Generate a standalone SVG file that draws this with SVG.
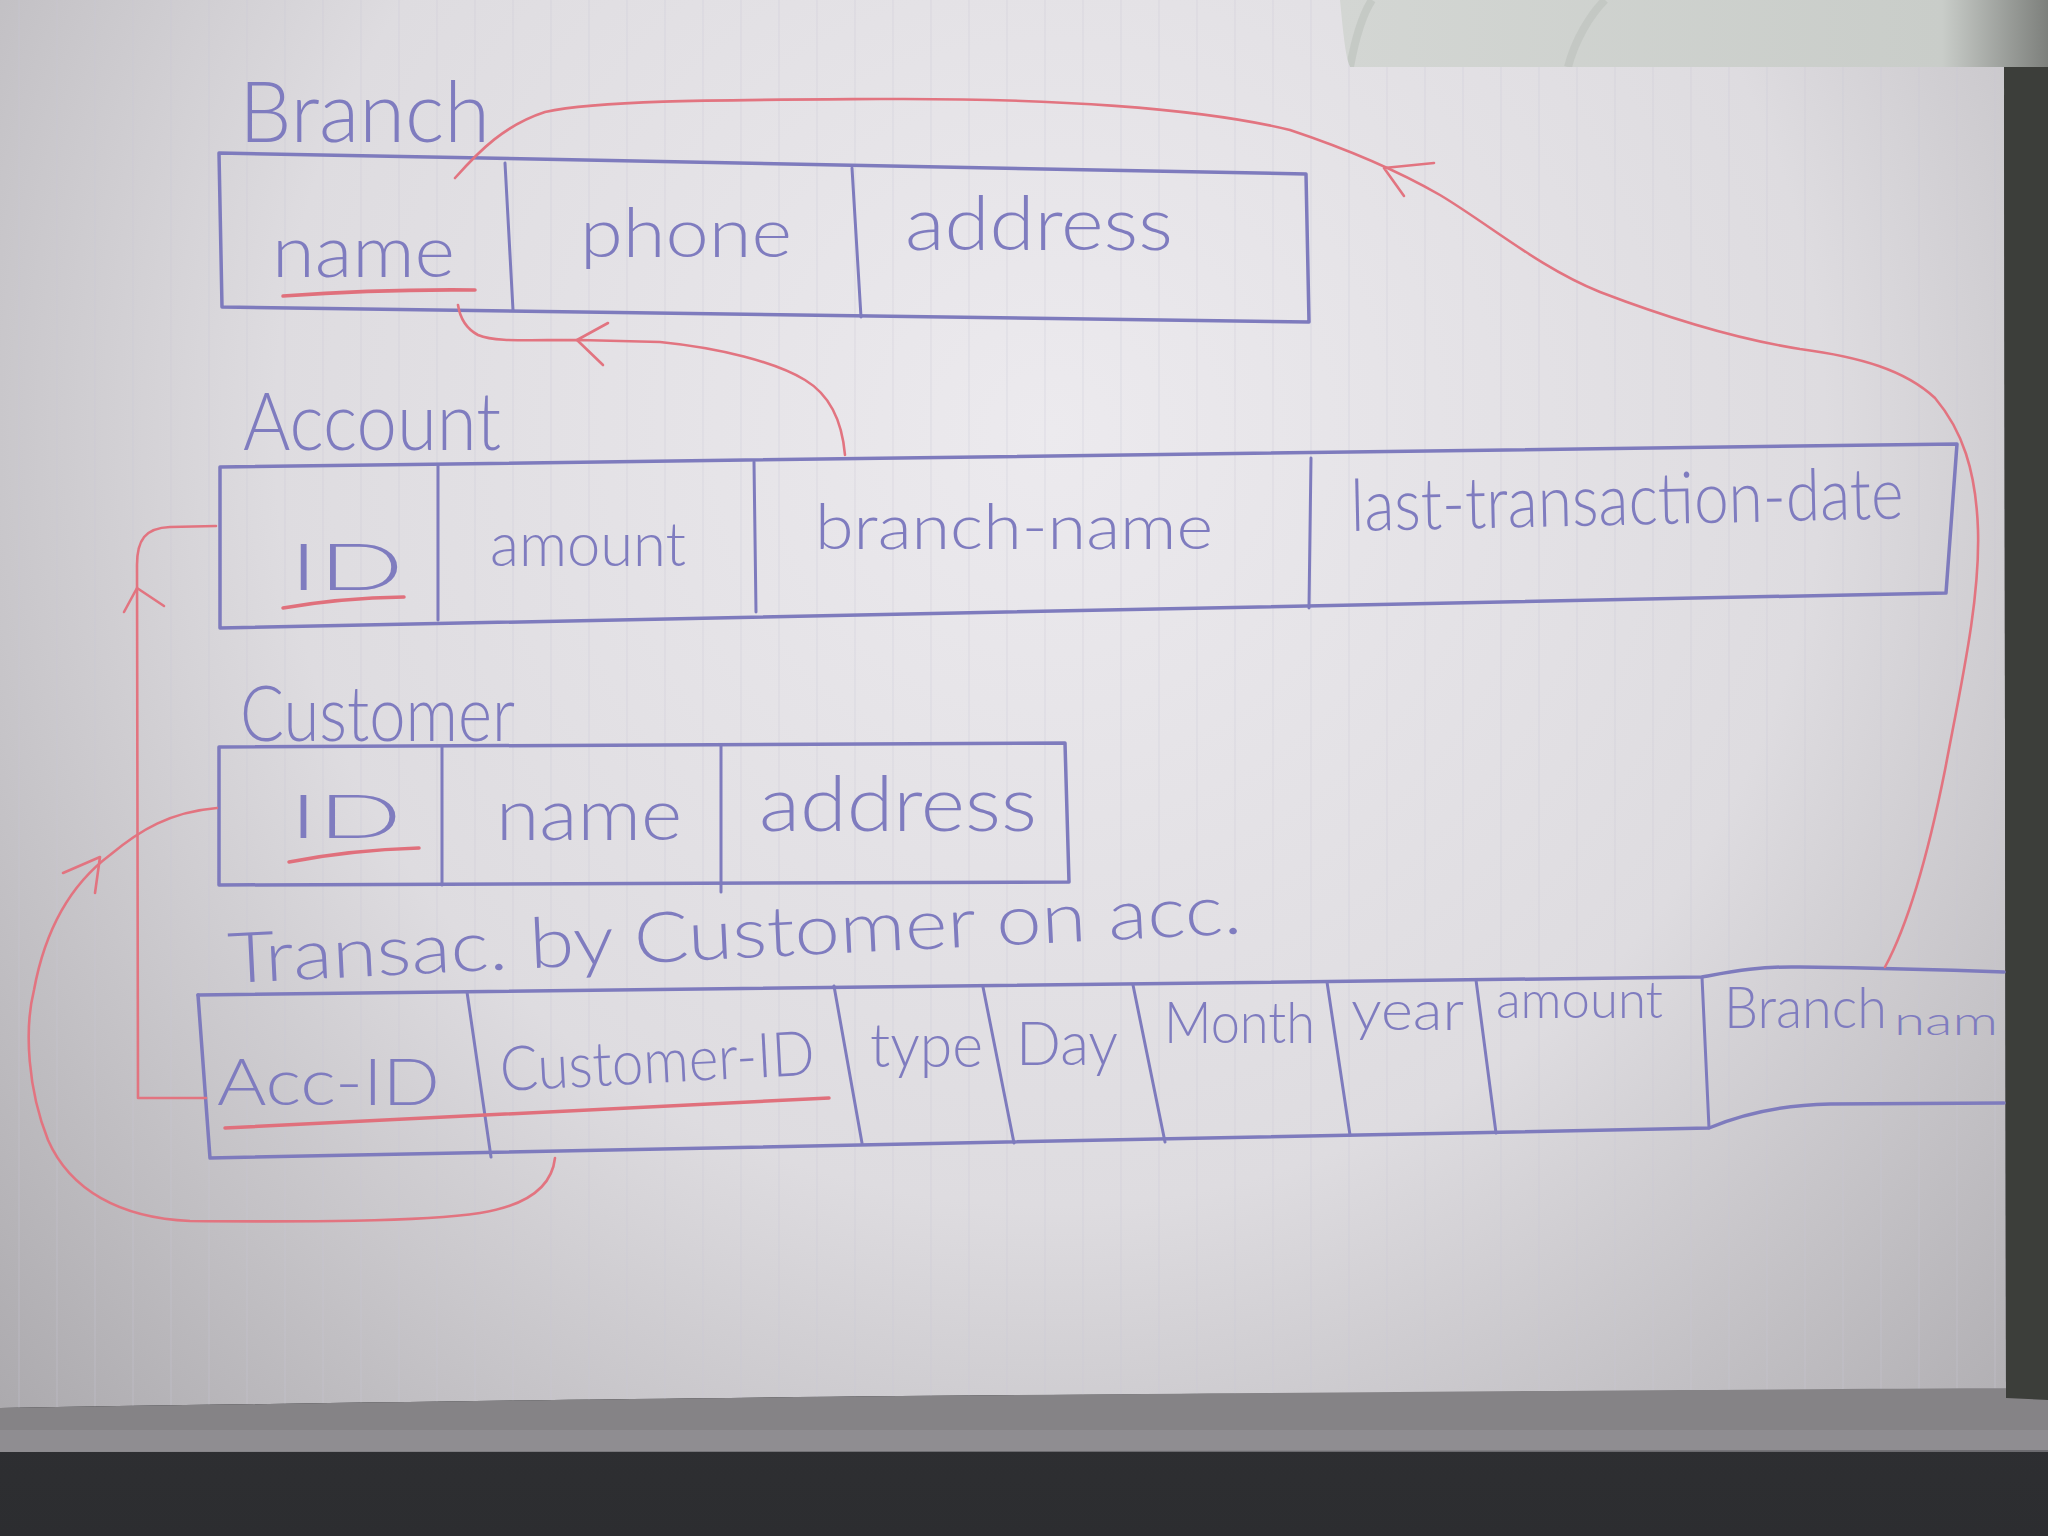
<svg xmlns="http://www.w3.org/2000/svg" width="2048" height="1536" viewBox="0 0 2048 1536">
<defs>
  <radialGradient id="paperGrad" cx="1050" cy="430" r="1550" gradientUnits="userSpaceOnUse">
    <stop offset="0" stop-color="#eceaee"/>
    <stop offset="0.5" stop-color="#dedce0"/>
    <stop offset="1" stop-color="#a3a1a5"/>
  </radialGradient>
  <linearGradient id="darkGrad" x1="0" y1="0" x2="0" y2="1">
    <stop offset="0" stop-color="#46474a"/>
    <stop offset="1" stop-color="#2c2d30"/>
  </linearGradient>
  <linearGradient id="topGrad" x1="0" y1="0" x2="1" y2="0">
    <stop offset="0" stop-color="#d3d6d3"/>
    <stop offset="0.85" stop-color="#c9cdc9"/>
    <stop offset="1" stop-color="#7d807c"/>
  </linearGradient>
  <pattern id="rules" width="38" height="1536" patternUnits="userSpaceOnUse">
    <line x1="19" y1="0" x2="19" y2="1536" stroke="#c8c5d4" stroke-width="1.2" opacity="0.35"/>
  </pattern>
  <style>
    .box { fill: none; stroke: #7e7bbd; stroke-width: 3.5; stroke-linejoin: round; stroke-linecap: round; }
    .div { fill: none; stroke: #7e7bbd; stroke-width: 3; stroke-linecap: round; }
    .t { font-family: Lato, "Open Sans", "Liberation Sans", sans-serif; font-weight: 300; fill: #7f7cbf; }
    .pk { fill: none; stroke: #e0707c; stroke-width: 3.5; stroke-linecap: round; }
    .fk { fill: none; stroke: #e27480; stroke-width: 2.6; stroke-linecap: round; stroke-linejoin: round; }
  </style>
</defs>

<!-- background / paper -->
<rect x="0" y="0" width="2048" height="1536" fill="url(#darkGrad)"/>
<rect x="1340" y="0" width="708" height="95" fill="url(#topGrad)"/>
<path d="M1350,67 C1355,40 1362,15 1372,0 M1568,67 C1575,40 1590,15 1605,0" fill="none" stroke="#bcc2bc" stroke-width="8" opacity="0.6"/>
<path d="M0,0 L1340,0 C1343,30 1345,55 1350,67 L2004,67 L2006,1398 C1600,1390 1300,1393 900,1396 C500,1400 200,1405 0,1408 Z" fill="url(#paperGrad)"/>
<path d="M0,0 L1340,0 C1343,30 1345,55 1350,67 L2004,67 L2006,1398 C1600,1390 1300,1393 900,1396 C500,1400 200,1405 0,1408 Z" fill="url(#rules)"/>
<path d="M0,1408 C200,1405 500,1400 900,1396 C1300,1393 1600,1390 2048,1388 L2048,1450 L0,1452 Z" fill="#858386"/>
<rect x="0" y="1430" width="2048" height="22" fill="#96949a" opacity="0.6"/>
<path d="M2004,67 L2048,67 L2048,1400 L2006,1398 Z" fill="#3c3e3a"/>

<!-- Branch -->
<g id="branch">
  <text class="t" x="239" y="142" font-size="84" textLength="251" lengthAdjust="spacingAndGlyphs">Branch</text>
  <path class="box" d="M219,153 L1306,174 L1309,322 L222,307 Z"/>
  <line class="div" x1="505" y1="163" x2="513" y2="310"/>
  <line class="div" x1="852" y1="168" x2="861" y2="317"/>
  <text class="t" x="272" y="277" font-size="72" textLength="183" lengthAdjust="spacingAndGlyphs">name</text>
  <path class="pk" d="M283,296 Q380,289 475,290"/>
  <text class="t" x="580" y="257" font-size="68" textLength="212" lengthAdjust="spacingAndGlyphs">phone</text>
  <text class="t" x="905" y="250" font-size="74" textLength="268" lengthAdjust="spacingAndGlyphs">address</text>
</g>

<!-- Account -->
<g id="account">
  <text class="t" x="243" y="450" font-size="80" textLength="258" lengthAdjust="spacingAndGlyphs">Account</text>
  <path class="box" d="M220,467 L1957,444 L1946,593 L220,628 Z"/>
  <line class="div" x1="438" y1="466" x2="438" y2="620"/>
  <line class="div" x1="754" y1="462" x2="756" y2="612"/>
  <line class="div" x1="1311" y1="458" x2="1309" y2="608"/>
  <text class="t" x="289" y="590" font-size="66" textLength="115" lengthAdjust="spacingAndGlyphs">ID</text>
  <path class="pk" d="M283,608 Q340,598 404,597"/>
  <text class="t" x="490" y="566" font-size="62" textLength="196" lengthAdjust="spacingAndGlyphs">amount</text>
  <text class="t" x="815" y="549" font-size="64" textLength="398" lengthAdjust="spacingAndGlyphs">branch-name</text>
  <text class="t" x="1351" y="531" font-size="72" textLength="553" lengthAdjust="spacingAndGlyphs" transform="rotate(-1.3 1351 531)">last-transaction-date</text>
</g>

<!-- Customer -->
<g id="customer">
  <text class="t" x="240" y="741" font-size="76" textLength="275" lengthAdjust="spacingAndGlyphs">Customer</text>
  <path class="box" d="M219,747 L1065,743 L1069,882 L219,885 Z"/>
  <line class="div" x1="442" y1="747" x2="442" y2="885"/>
  <line class="div" x1="721" y1="745" x2="721" y2="892"/>
  <text class="t" x="289" y="838" font-size="62" textLength="113" lengthAdjust="spacingAndGlyphs">ID</text>
  <path class="pk" d="M289,862 Q350,850 419,848"/>
  <text class="t" x="496" y="840" font-size="72" textLength="186" lengthAdjust="spacingAndGlyphs">name</text>
  <text class="t" x="759" y="831" font-size="76" textLength="278" lengthAdjust="spacingAndGlyphs">address</text>
</g>

<!-- Transaction by customer on account -->
<g id="transaction">
  <text class="t" x="229" y="983" font-size="70" textLength="1015" lengthAdjust="spacingAndGlyphs" transform="rotate(-2.8 229 983)">Transac. by Customer on acc.</text>
  <path class="box" d="M198,995 L1702,977 C1730,972 1760,966 1800,967 C1880,968 1950,970 2004,972"/>
  <path class="box" d="M198,995 L210,1158 L1709,1128 C1740,1115 1780,1105 1830,1104 L2004,1103"/>
  <line class="div" x1="467" y1="992" x2="491" y2="1157"/>
  <line class="div" x1="834" y1="986" x2="862" y2="1143"/>
  <line class="div" x1="983" y1="987" x2="1014" y2="1143"/>
  <line class="div" x1="1133" y1="985" x2="1165" y2="1142"/>
  <line class="div" x1="1327" y1="982" x2="1350" y2="1135"/>
  <line class="div" x1="1476" y1="980" x2="1496" y2="1133"/>
  <line class="div" x1="1702" y1="977" x2="1709" y2="1128"/>
  <text class="t" x="217" y="1105" font-size="66" textLength="223" lengthAdjust="spacingAndGlyphs">Acc-ID</text>
  <path class="pk" d="M225,1128 Q500,1115 829,1098"/>
  <text class="t" x="501" y="1091" font-size="62" textLength="315" lengthAdjust="spacingAndGlyphs" transform="rotate(-3 501 1091)">Customer-ID</text>
  <text class="t" x="870" y="1067" font-size="62" textLength="113" lengthAdjust="spacingAndGlyphs">type</text>
  <text class="t" x="1016" y="1065" font-size="62" textLength="102" lengthAdjust="spacingAndGlyphs">Day</text>
  <text class="t" x="1164" y="1043" font-size="58" textLength="151" lengthAdjust="spacingAndGlyphs">Month</text>
  <text class="t" x="1351" y="1030" font-size="56" textLength="113" lengthAdjust="spacingAndGlyphs">year</text>
  <text class="t" x="1496" y="1018" font-size="52" textLength="167" lengthAdjust="spacingAndGlyphs">amount</text>
  <text class="t" x="1724" y="1028" font-size="58"><tspan textLength="163" lengthAdjust="spacingAndGlyphs">Branch</tspan><tspan x="1894" y="1035" font-size="40" textLength="104" lengthAdjust="spacingAndGlyphs">nam</tspan></text>
</g>

<!-- connectors (foreign keys) -->
<g id="connectors">
  <!-- Account.branch-name -> Branch.name -->
  <path class="fk" d="M845,455 C842,420 830,395 805,380 C775,362 720,348 660,342 L580,340 C520,340 495,342 478,335 C465,328 460,318 458,305"/>
  <path class="fk" d="M608,323 L577,340 L603,365"/>
  <!-- Transaction.Branch name -> Branch.name -->
  <path class="fk" d="M1885,967 C1905,930 1925,870 1945,770 C1962,680 1980,600 1978,530 C1976,470 1962,430 1935,398 C1905,370 1860,357 1800,349 C1730,338 1660,315 1600,292 C1540,268 1490,225 1440,195 C1400,172 1350,150 1290,130 C1200,108 1050,98 880,99 C720,100 600,100 545,112 C505,125 480,150 455,178"/>
  <path class="fk" d="M1434,163 L1384,168 L1404,196"/>
  <!-- Transaction.Acc-ID -> Account.ID -->
  <path class="fk" d="M206,1098 L138,1098 L137,565 C137,540 145,528 170,527 L216,526"/>
  <path class="fk" d="M124,612 L137,588 L164,606"/>
  <!-- Transaction.Customer-ID -> Customer.ID -->
  <path class="fk" d="M555,1158 C552,1185 530,1205 480,1213 C420,1222 300,1222 190,1221 C120,1218 70,1190 48,1140 C28,1090 24,1030 34,990 C45,930 70,885 110,855 C140,830 170,812 217,808"/>
  <path class="fk" d="M63,873 L100,857 L95,893"/>
</g>
</svg>
